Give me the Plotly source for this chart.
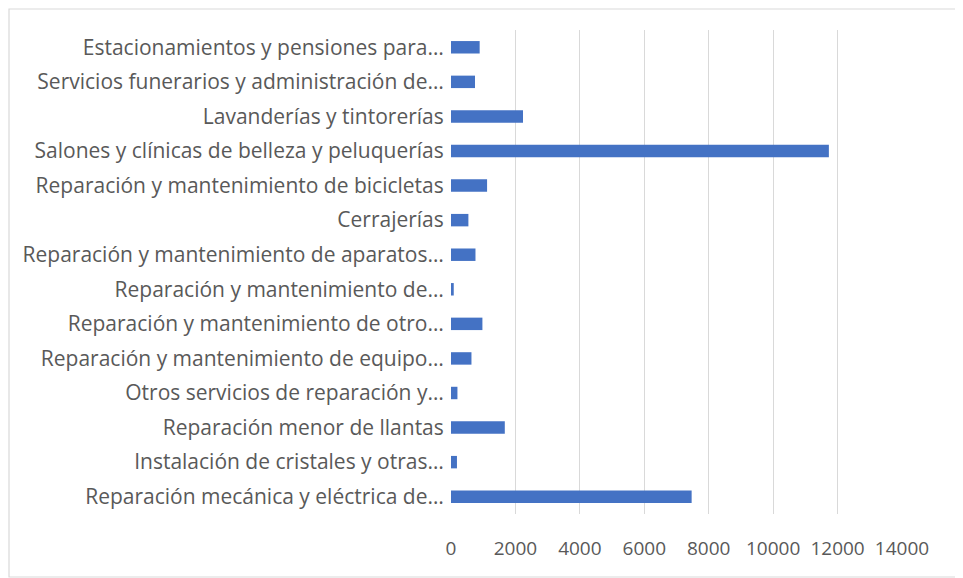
import plotly.graph_objects as go

# ── Data (top to bottom as shown) ──
categories = [
    "Estacionamientos y pensiones para…",
    "Servicios funerarios y administración de…",
    "Lavanderías y tintorerías",
    "Salones y clínicas de belleza y peluquerías",
    "Reparación y mantenimiento de bicicletas",
    "Cerrajerías",
    "Reparación y mantenimiento de aparatos…",
    "Reparación y mantenimiento de…",
    "Reparación y mantenimiento de otro…",
    "Reparación y mantenimiento de equipo…",
    "Otros servicios de reparación y…",
    "Reparación menor de llantas",
    "Instalación de cristales y otras…",
    "Reparación mecánica y eléctrica de…",
]
values = [890, 745, 2235, 11730, 1120, 540, 760, 85, 975, 635, 200, 1670, 185, 7470]
x_ticks = [0, 2000, 4000, 6000, 8000, 10000, 12000, 14000]
x_labels = [str(v) for v in x_ticks]

# ── Style ──
C_BAR = "#4472C4"
C_TEXT = "#595959"
C_GRID = "#D9D9D9"
# page body has an 8px margin, so the figure is shifted to compensate
W, H = 955, 570
L, T = 443, 22
R, B = W - L - 451, H - T - 484

fig = go.Figure(go.Bar(
    x=values, y=categories, orientation="h",
    marker=dict(color=C_BAR, line=dict(width=0)),
    width=0.36,
))

# chart border around the whole figure (paper coords)
pw, ph = W - L - R, H - T - B
fig.add_shape(
    type="rect", xref="paper", yref="paper",
    x0=(1 - L) / pw, x1=(W - 1 - L) / pw,
    y0=-(B - 1) / ph, y1=(T - 1) / ph + 1,
    line=dict(color="#D9D9D9", width=1.2),
)

fig.update_layout(
    width=W, height=H,
    margin=dict(l=L, r=R, t=T, b=B, autoexpand=False),
    paper_bgcolor="white", plot_bgcolor="white",
    font=dict(family="Open Sans, Liberation Sans, sans-serif", size=20, color=C_TEXT),
    showlegend=False,
)
fig.update_xaxes(
    range=[0, 14000], tickvals=x_ticks, ticktext=x_labels,
    showgrid=True, gridcolor=C_GRID, gridwidth=1,
    zeroline=False, showline=False, automargin=False,
    ticks="outside", ticklen=17, tickcolor="rgba(0,0,0,0)",
    tickfont=dict(size=19),
)
fig.update_yaxes(
    autorange="reversed", showgrid=False, zeroline=False, showline=False,
    automargin=False,
    ticks="outside", ticklen=2, tickcolor="rgba(0,0,0,0)",
    tickfont=dict(size=21),
)

fig.write_html("out.html")
